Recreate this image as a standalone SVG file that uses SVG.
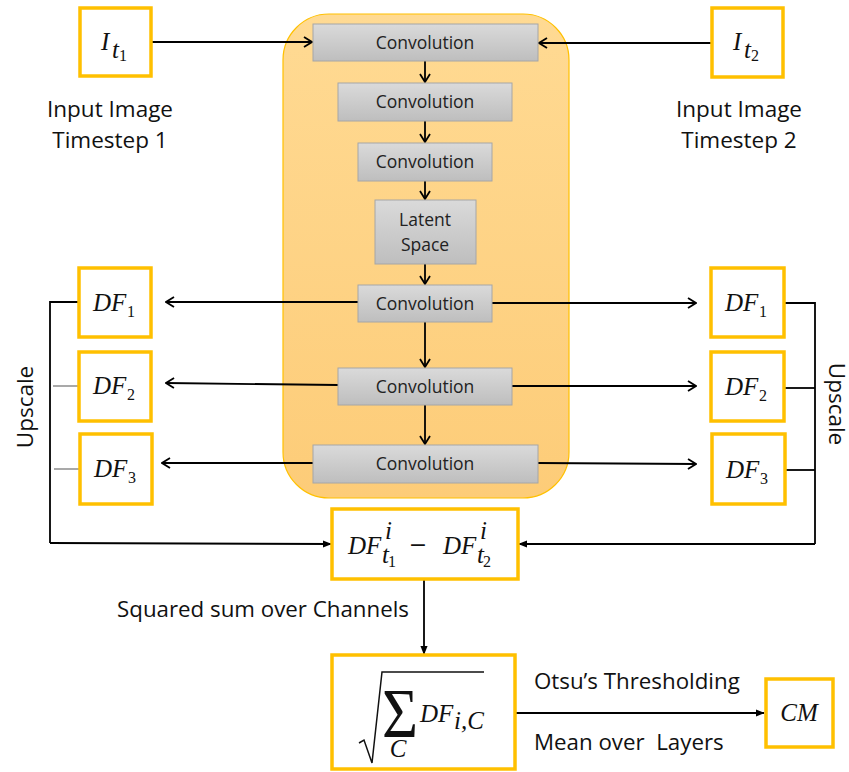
<svg xmlns="http://www.w3.org/2000/svg" width="849" height="772" viewBox="0 0 849 772">
<defs>
<linearGradient id="gOrange" x1="0" y1="0" x2="0" y2="1">
<stop offset="0" stop-color="#FFDA93"/>
<stop offset="1" stop-color="#FDCC78"/>
</linearGradient>
<linearGradient id="gGray" x1="0" y1="0" x2="0" y2="1">
<stop offset="0" stop-color="#DADADA"/>
<stop offset="1" stop-color="#BEBEBE"/>
</linearGradient>
<marker id="openArrow" viewBox="0 0 10 12" refX="9" refY="6" markerWidth="10" markerHeight="12" markerUnits="userSpaceOnUse" orient="auto">
<path d="M1,1 L9,6 L1,11" fill="none" stroke="#000" stroke-width="1.8"/>
</marker>
<marker id="fillArrow" viewBox="0 0 10 10" refX="9" refY="5" markerWidth="9" markerHeight="9" markerUnits="userSpaceOnUse" orient="auto">
<path d="M0,1 L10,5 L0,9 Z" fill="#000"/>
</marker>
</defs>
<style>
.gold{fill:#fff;stroke:#FFC000;stroke-width:3.5}
.conv{fill:url(#gGray);stroke:#A6A6A6;stroke-width:1}
.convt{font-family:"Open Sans","Liberation Sans",sans-serif;font-size:17.5px;fill:#222;text-anchor:middle}
.lbl{font-family:"Open Sans","Liberation Sans",sans-serif;font-size:22.5px;fill:#111}
.lbl2{font-family:"Open Sans","Liberation Sans",sans-serif;font-size:22.3px;fill:#111}
.math{font-family:"Liberation Serif","DejaVu Serif",serif;font-style:italic;font-size:25px;fill:#111}
.sub{font-family:"Liberation Serif","DejaVu Serif",serif;font-size:16px;fill:#111}
.line{fill:none;stroke:#000;stroke-width:1.8}
.gline{fill:none;stroke:#A0A0A0;stroke-width:1.8}
</style>

<g id="encoder-container">
<rect x="283" y="14" width="286" height="484" rx="46" ry="46" fill="url(#gOrange)" stroke="#FFC000" stroke-width="1.2"/>
</g>

<g id="connectors">
<line class="line" x1="152" y1="42" x2="312" y2="42" marker-end="url(#openArrow)"/>
<line class="line" x1="712" y1="43" x2="539" y2="43" marker-end="url(#openArrow)"/>
<line class="line" x1="425" y1="61" x2="425" y2="82" marker-end="url(#openArrow)"/>
<line class="line" x1="425" y1="121" x2="425" y2="142" marker-end="url(#openArrow)"/>
<line class="line" x1="425" y1="181" x2="425" y2="199" marker-end="url(#openArrow)"/>
<line class="line" x1="425" y1="264" x2="425" y2="284" marker-end="url(#openArrow)"/>
<line class="line" x1="425" y1="322" x2="425" y2="367" marker-end="url(#openArrow)"/>
<line class="line" x1="425" y1="405" x2="425" y2="444" marker-end="url(#openArrow)"/>
<line class="line" x1="358" y1="302" x2="166" y2="302" marker-end="url(#openArrow)"/>
<line class="line" x1="338" y1="385" x2="166" y2="383" marker-end="url(#openArrow)"/>
<line class="line" x1="313" y1="463" x2="162" y2="463" marker-end="url(#openArrow)"/>
<line class="line" x1="492" y1="303" x2="696" y2="303" marker-end="url(#openArrow)"/>
<line class="line" x1="512" y1="386" x2="696" y2="386" marker-end="url(#openArrow)"/>
<line class="line" x1="538" y1="463" x2="696" y2="464" marker-end="url(#openArrow)"/>
<polyline class="line" points="79,302 50,302 50,543"/>
<line class="gline" x1="53" y1="386" x2="79" y2="386"/>
<line class="gline" x1="54" y1="469" x2="79" y2="469"/>
<line class="line" x1="50" y1="543" x2="331" y2="544" marker-end="url(#fillArrow)"/>
<polyline class="line" points="785,303 815,303 815,544"/>
<line class="line" x1="785" y1="388" x2="815" y2="388"/>
<line class="line" x1="786" y1="470" x2="815" y2="470"/>
<line class="line" x1="815" y1="544" x2="519" y2="544" marker-end="url(#fillArrow)"/>
<line class="line" x1="424" y1="579" x2="424" y2="654" marker-end="url(#fillArrow)"/>
<line class="line" x1="515" y1="713" x2="764" y2="713" marker-end="url(#fillArrow)"/>
</g>

<g id="input1">
<rect class="gold" x="80" y="8" width="71" height="68"/>
<text class="math" x="101" y="50">I</text>
<text class="math" x="112" y="58" font-size="17">t</text>
<text class="sub" x="119" y="61" font-size="12">1</text>
<text class="lbl" x="110" y="117" text-anchor="middle">Input Image</text>
<text class="lbl" x="110" y="148" text-anchor="middle">Timestep 1</text>
</g>

<g id="input2">
<rect class="gold" x="712" y="8" width="71" height="69"/>
<text class="math" x="733" y="50">I</text>
<text class="math" x="744" y="58" font-size="17">t</text>
<text class="sub" x="751" y="61" font-size="12">2</text>
<text class="lbl" x="739" y="117" text-anchor="middle">Input Image</text>
<text class="lbl" x="739" y="148" text-anchor="middle">Timestep 2</text>
</g>

<g id="conv1"><rect class="conv" x="313" y="24" width="225" height="37"/><text class="convt" x="425" y="49">Convolution</text></g>
<g id="conv2"><rect class="conv" x="338" y="83" width="174" height="38"/><text class="convt" x="425" y="108">Convolution</text></g>
<g id="conv3"><rect class="conv" x="358" y="143" width="134" height="38"/><text class="convt" x="425" y="168">Convolution</text></g>
<g id="latent"><rect class="conv" x="375" y="200" width="101" height="64"/><text class="convt" x="425" y="226">Latent</text><text class="convt" x="425" y="251">Space</text></g>
<g id="conv4"><rect class="conv" x="358" y="285" width="134" height="37"/><text class="convt" x="425" y="310">Convolution</text></g>
<g id="conv5"><rect class="conv" x="338" y="368" width="174" height="37"/><text class="convt" x="425" y="393">Convolution</text></g>
<g id="conv6"><rect class="conv" x="313" y="445" width="225" height="38"/><text class="convt" x="425" y="470">Convolution</text></g>

<g id="df1-left"><rect class="gold" x="79" y="268" width="72" height="69"/><text class="math" x="93" y="311">DF</text><text class="sub" x="127" y="317">1</text></g>
<g id="df2-left"><rect class="gold" x="79" y="352" width="72" height="69"/><text class="math" x="93" y="394">DF</text><text class="sub" x="127" y="400">2</text></g>
<g id="df3-left"><rect class="gold" x="80" y="434" width="72" height="70"/><text class="math" x="94" y="477">DF</text><text class="sub" x="128" y="483">3</text></g>

<g id="df1-right"><rect class="gold" x="711" y="268" width="73" height="69"/><text class="math" x="725" y="311">DF</text><text class="sub" x="759" y="317">1</text></g>
<g id="df2-right"><rect class="gold" x="711" y="352" width="73" height="69"/><text class="math" x="725" y="395">DF</text><text class="sub" x="759" y="401">2</text></g>
<g id="df3-right"><rect class="gold" x="712" y="434" width="73" height="70"/><text class="math" x="726" y="478">DF</text><text class="sub" x="760" y="484">3</text></g>

<g id="upscale-left"><text class="lbl" transform="translate(33,407) rotate(-90)" text-anchor="middle" font-size="22">Upscale</text></g>
<g id="upscale-right"><text class="lbl" transform="translate(829,404) rotate(90)" text-anchor="middle" font-size="22">Upscale</text></g>

<g id="difference">
<rect class="gold" x="332" y="509" width="186" height="70"/>
<text class="math" x="348" y="554">DF</text>
<text class="math" x="385" y="539" font-size="15">i</text>
<text class="math" x="382" y="563" font-size="16">t</text>
<text class="sub" x="388" y="567" font-size="11">1</text>
<text x="418" y="552" font-family="DejaVu Sans,sans-serif" font-size="22" text-anchor="middle" fill="#111">−</text>
<text class="math" x="443" y="554">DF</text>
<text class="math" x="480" y="539" font-size="15">i</text>
<text class="math" x="477" y="563" font-size="16">t</text>
<text class="sub" x="483" y="567" font-size="11">2</text>
</g>

<text class="lbl2" x="263" y="617" text-anchor="middle">Squared sum over Channels</text>

<g id="sqrt-sum">
<rect class="gold" x="332" y="655" width="183" height="114"/>
<polyline fill="none" stroke="#111" stroke-width="1.5" points="359,743 364,740 372,763 382,672 484,672"/>
<text x="382" y="737" font-family="Liberation Serif,serif" font-size="70" textLength="36" lengthAdjust="spacingAndGlyphs" fill="#111">Σ</text>
<text class="math" x="398" y="757" font-size="18" text-anchor="middle">C</text>
<text class="math" x="420" y="722">DF</text>
<text class="math" x="454" y="729" font-size="17">i,C</text>
</g>

<text class="lbl2" x="534" y="689">Otsu’s Thresholding</text>
<text class="lbl2" x="534" y="750" xml:space="preserve">Mean over  Layers</text>

<g id="cm">
<rect class="gold" x="766" y="679" width="67" height="68"/>
<text class="math" x="799" y="721" text-anchor="middle">CM</text>
</g>
</svg>
